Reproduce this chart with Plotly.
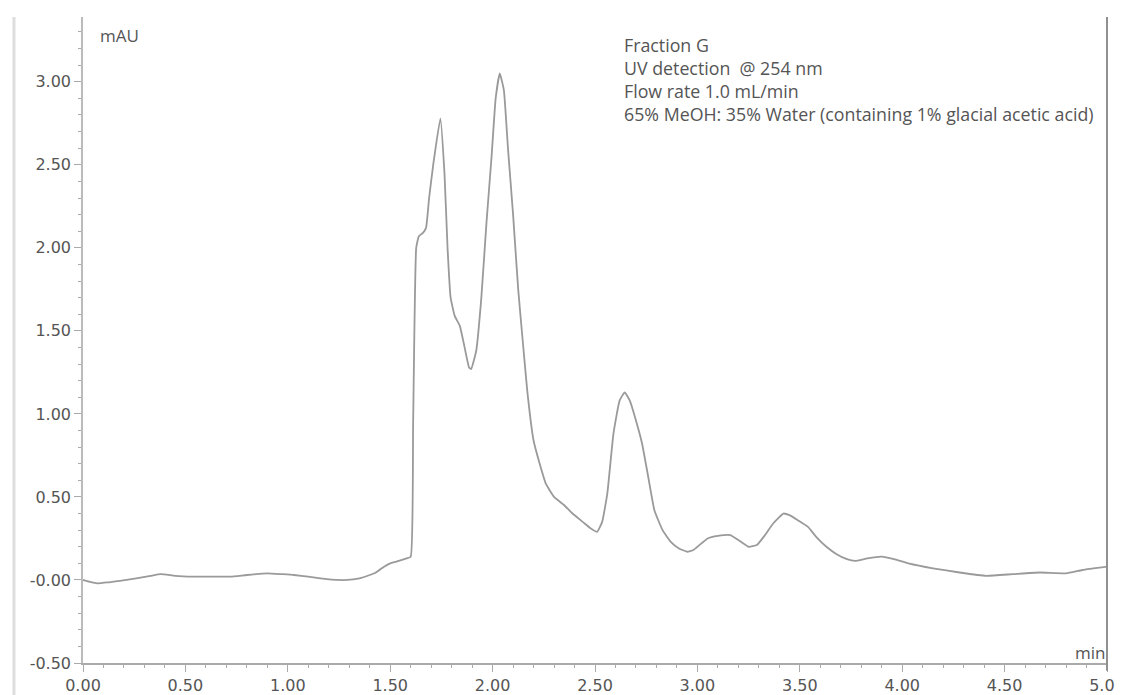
import plotly.graph_objects as go

# Retention time (min) and absorbance (mAU)
time_min = [0.00, 0.03, 0.07, 0.12, 0.18, 0.26, 0.33, 0.38, 0.45, 0.54, 0.63, 0.72, 0.80, 0.90,
            0.97, 1.03, 1.10, 1.19, 1.29, 1.35, 1.40, 1.43, 1.47, 1.50, 1.53, 1.58, 1.600,
            1.612, 1.627, 1.64, 1.66, 1.675, 1.69, 1.71, 1.745, 1.765, 1.78, 1.795, 1.815,
            1.84, 1.86, 1.885, 1.895, 1.92, 1.945, 1.97, 1.995, 2.015, 2.035, 2.055, 2.075,
            2.10, 2.125, 2.15, 2.17, 2.20, 2.23, 2.26, 2.30, 2.35, 2.39, 2.44, 2.48, 2.51,
            2.535, 2.56, 2.59, 2.62, 2.645, 2.67, 2.70, 2.73, 2.76, 2.79, 2.83, 2.87, 2.91,
            2.95, 2.98, 3.01, 3.05, 3.10, 3.16, 3.20, 3.25, 3.29, 3.33, 3.37, 3.42, 3.45,
            3.49, 3.54, 3.58, 3.63, 3.68, 3.73, 3.77, 3.83, 3.90, 3.96, 4.03, 4.15, 4.28,
            4.41, 4.54, 4.67, 4.80, 4.88, 5.00]
absorbance = [0.00, -0.01, -0.02, -0.015, -0.005, 0.01, 0.025, 0.035, 0.025, 0.02, 0.02, 0.02,
              0.03, 0.04, 0.035, 0.03, 0.02, 0.005, 0.0, 0.01, 0.03, 0.045, 0.08, 0.10, 0.11,
              0.13, 0.14, 0.95, 2.0, 2.07, 2.09, 2.12, 2.3, 2.5, 2.78, 2.45, 2.0, 1.70, 1.59,
              1.53, 1.42, 1.28, 1.27, 1.38, 1.7, 2.15, 2.55, 2.9, 3.05, 2.95, 2.6, 2.2, 1.75,
              1.4, 1.13, 0.84, 0.70, 0.58, 0.50, 0.45, 0.40, 0.35, 0.31, 0.29, 0.35, 0.52,
              0.88, 1.08, 1.13, 1.08, 0.96, 0.82, 0.62, 0.42, 0.30, 0.23, 0.19, 0.17, 0.18,
              0.21, 0.25, 0.265, 0.27, 0.24, 0.20, 0.21, 0.27, 0.34, 0.40, 0.39, 0.36, 0.32,
              0.26, 0.20, 0.155, 0.125, 0.115, 0.13, 0.14, 0.125, 0.10, 0.07, 0.045, 0.025,
              0.035, 0.045, 0.04, 0.06, 0.08]

y_tickvals = [-0.5, 0.0, 0.5, 1.0, 1.5, 2.0, 2.5, 3.0]
y_ticktext = ["-0.50", "-0.00", "0.50", "1.00", "1.50", "2.00", "2.50", "3.00"]
x_tickvals = [0.0, 0.5, 1.0, 1.5, 2.0, 2.5, 3.0, 3.5, 4.0, 4.5, 5.0]
x_ticktext = ["0.00", "0.50", "1.00", "1.50", "2.00", "2.50", "3.00", "3.50", "4.00", "4.50", "5.00"]

info_lines = ["Fraction G", "UV detection  @ 254 nm", "Flow rate 1.0 mL/min",
              "65% MeOH: 35% Water (containing 1% glacial acetic acid)"]
info_y = [3.22, 3.084, 2.946, 2.807]

FONT = "Open Sans"
TICKFONT = "DejaVu Sans"
TXT = "#555555"

fig = go.Figure()
fig.add_trace(go.Scatter(x=time_min, y=absorbance, mode="lines",
                         line=dict(color="#9a9a9a", width=1.8, shape="spline", smoothing=0.4),
                         hoverinfo="skip"))

for line, yv in zip(info_lines, info_y):
    fig.add_annotation(x=2.632, y=yv, xref="x", yref="y", text=line, showarrow=False,
                       xanchor="left", yanchor="middle",
                       font=dict(family=FONT, size=17.8, color=TXT))

fig.add_annotation(x=0.075, y=3.277, xref="x", yref="y", text="mAU", showarrow=False,
                   xanchor="left", yanchor="middle", font=dict(family=FONT, size=17, color=TXT))
fig.add_annotation(x=5.0, y=-0.437, xref="x", yref="y", text="min", showarrow=False,
                   xanchor="right", yanchor="middle", font=dict(family=FONT, size=17, color=TXT))

# frame lines
fig.add_shape(type="line", xref="paper", yref="paper", x0=-0.0674, x1=-0.0674, y0=-0.06, y1=1.0,
              line=dict(color="#dddddd", width=3))
fig.add_shape(type="line", xref="paper", yref="paper", x0=1.0, x1=1.0, y0=-0.012, y1=1.0,
              line=dict(color="#909090", width=2))

# the page body adds an 8 px offset, so the figure is 8 px smaller than the window
fig.update_layout(
    width=1115, height=687,
    margin=dict(l=75, r=16, t=9, b=32, autoexpand=False),
    paper_bgcolor="white", plot_bgcolor="white",
    showlegend=False,
    font=dict(family=FONT, color=TXT),
)
fig.update_xaxes(range=[0, 5], showgrid=False, zeroline=False, automargin=False,
                 showline=True, linecolor="#aaaaaa", linewidth=1.5,
                 tickmode="array", tickvals=x_tickvals, ticktext=x_ticktext,
                 ticklabeloverflow="allow",
                 ticks="outside", ticklen=7, tickcolor="#aaaaaa", tickwidth=1,
                 minor=dict(dtick=0.1, tick0=0, ticks="outside", ticklen=3, tickcolor="#aaaaaa"),
                 tickfont=dict(family=TICKFONT, size=16, color=TXT))
fig.update_yaxes(range=[-0.5, 3.39], showgrid=False, zeroline=False, automargin=False,
                 showline=True, linecolor="#bbbbbb", linewidth=1.5,
                 tickmode="array", tickvals=y_tickvals, ticktext=y_ticktext,
                 ticks="outside", ticklen=7, tickcolor="#aaaaaa", tickwidth=1,
                 ticklabelstandoff=0,
                 minor=dict(dtick=0.1, tick0=0, ticks="outside", ticklen=3, tickcolor="#aaaaaa"),
                 tickfont=dict(family=TICKFONT, size=16, color=TXT))

fig.write_html("out.html")
